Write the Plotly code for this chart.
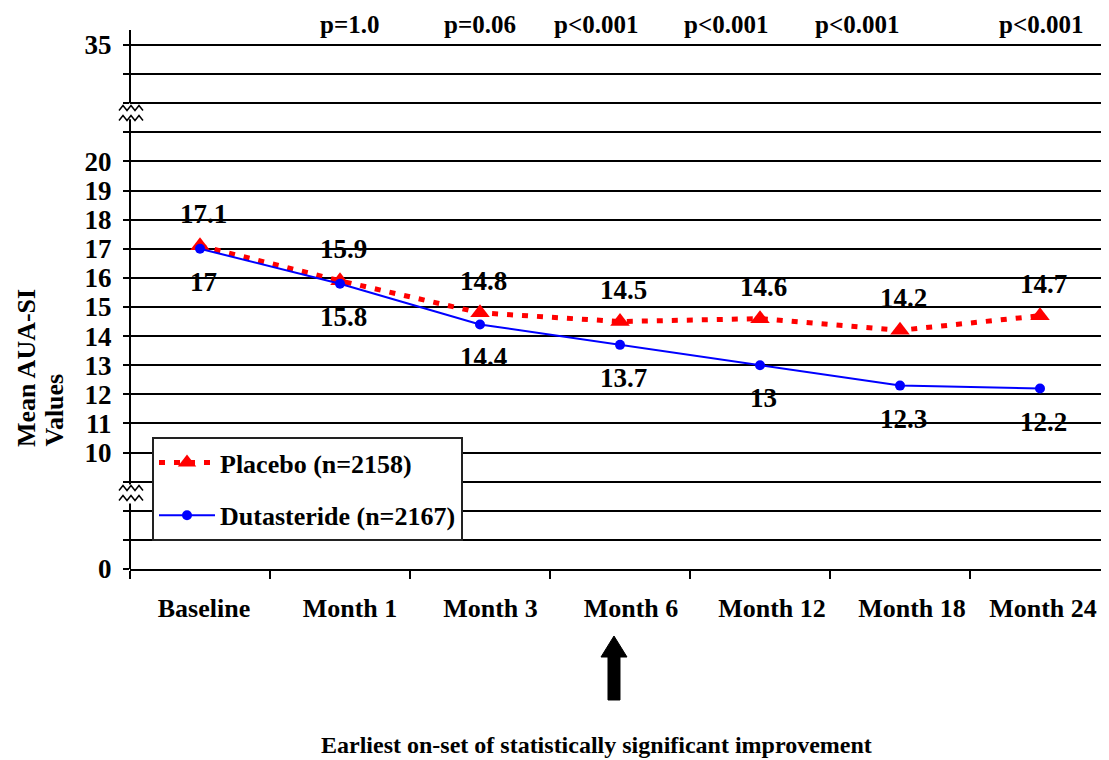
import plotly.graph_objects as go

# ---------------- data ----------------
categories = ["Baseline", "Month 1", "Month 3", "Month 6", "Month 12", "Month 18", "Month 24"]
placebo = [17.1, 15.9, 14.8, 14.5, 14.6, 14.2, 14.7]
dutasteride = [17.0, 15.8, 14.4, 13.7, 13.0, 12.3, 12.2]
placebo_labels = ["17.1", "15.9", "14.8", "14.5", "14.6", "14.2", "14.7"]
dutasteride_labels = ["17", "15.8", "14.4", "13.7", "13", "12.3", "12.2"]
p_values = ["p=1.0", "p=0.06", "p<0.001", "p<0.001", "p<0.001", "p<0.001"]

# broken y axis: slot values on the axis and the label shown at each slot
y_slots = list(range(6, 25))
y_slot_text = {6: "0", 24: "35"}
for v in range(10, 21):
    y_slot_text[v] = str(v)
y_ticktext = [y_slot_text.get(v, "") for v in y_slots]

# ---------------- layout helpers (screen pixel coords; page has 8px body margin) ----------------
OFF = 8
W, H = 1109 - OFF, 760 - OFF
SL, SR, ST, SB = 130, 1109, 30, 569
UNIT = (569 - 45) / 18.0
SLOT = 140.0
def px(x):
    return (x - SL) / (SR - SL)
def py(y):
    return (SB - y) / (SB - ST)

FONT = "Liberation Serif"
def f(size, color="black"):
    return dict(family=FONT, size=size, color=color, weight="bold")

fig = go.Figure()
x_idx = list(range(len(categories)))

fig.add_trace(go.Scatter(
    x=x_idx, y=placebo, mode="lines+markers", name="Placebo (n=2158)",
    line=dict(color="#FF0000", width=5, dash="6px,9px"),
    marker=dict(symbol="triangle-up", size=17, color="#FF0000"),
    legendgroup="a", cliponaxis=False,
))
fig.add_trace(go.Scatter(
    x=x_idx, y=dutasteride, mode="lines+markers", name="Dutasteride (n=2167)",
    line=dict(color="#0000FF", width=2),
    marker=dict(symbol="circle", size=10, color="#0000FF"),
    legendgroup="b", cliponaxis=False,
))

annotations = []
for i in x_idx:
    annotations.append(dict(x=i, y=placebo[i], text=placebo_labels[i], showarrow=False,
                            xanchor="center", yanchor="middle",
                            xshift=3, yshift=32, font=f(27)))
    annotations.append(dict(x=i, y=dutasteride[i], text=dutasteride_labels[i], showarrow=False,
                            xanchor="center", yanchor="middle",
                            xshift=3, yshift=-33, font=f(27)))

p_x_pos = [1.07, 2.0, 2.83, 3.76, 4.69, 6.01]
for xp, t in zip(p_x_pos, p_values):
    annotations.append(dict(x=xp, xref="x", y=py(24), yref="paper", text=t,
                            xanchor="center", yanchor="middle",
                            showarrow=False, font=f(25)))

annotations.append(dict(x=px(26), y=py(449), xref="paper", yref="paper",
                        text="Mean AUA-SI", textangle=-90, showarrow=False,
                        xanchor="center", yanchor="bottom", font=f(26)))
annotations.append(dict(x=px(54), y=py(449), xref="paper", yref="paper",
                        text="Values", textangle=-90, showarrow=False,
                        xanchor="center", yanchor="bottom", font=f(26)))
annotations.append(dict(x=px(596), y=py(745), xref="paper", yref="paper",
                        text="Earliest on-set of statistically significant improvement",
                        showarrow=False, xanchor="center", yanchor="middle", font=f(24)))

shapes = []
# y axis line, broken at two places
for y0, y1 in [(22.0, 24.515), (8.9, 21.45), (6.0, 8.25)]:
    shapes.append(dict(type="line", xref="paper", yref="y", x0=0, x1=0, y0=y0, y1=y1,
                       line=dict(color="black", width=2), layer="above"))

def zigzag(cy):
    pts = []
    xs = [119, 123, 127, 131, 135, 139, 143]
    for k, xx in enumerate(xs):
        yy = cy + (2.5 if k % 2 == 0 else -2.5)
        pts.append(f"{px(xx):.5f},{py(yy):.5f}")
    return "M " + " L ".join(pts)

for cy in [108, 118, 488, 498]:
    shapes.append(dict(type="path", xref="paper", yref="paper", path=zigzag(cy),
                       line=dict(color="black", width=1.5), layer="above"))

# upward arrow
arrow_pts = [(614, 636), (627, 657), (620, 657), (620, 700), (608, 700), (608, 657), (601, 657)]
arrow_path = "M " + " L ".join(f"{px(a):.5f},{py(b):.5f}" for a, b in arrow_pts) + " Z"
shapes.append(dict(type="path", xref="paper", yref="paper", path=arrow_path,
                   fillcolor="black", line=dict(color="black", width=1)))

# category labels sit slightly right of the category centre in the reference
label_offsets_px = [4, 10, 10.5, 11, 12, 12, 3]
label_pos = [i + d / SLOT for i, d in zip(x_idx, label_offsets_px)]

fig.update_layout(
    width=W, height=H,
    margin=dict(l=SL - OFF, r=W - (SR - OFF), t=ST - OFF, b=H - (SB - OFF), pad=0),
    paper_bgcolor="white", plot_bgcolor="white",
    showlegend=True,
    legend=dict(x=px(152), y=py(437), xanchor="left", yanchor="top",
                bgcolor="white", bordercolor="#222", borderwidth=2,
                font=f(26), itemwidth=56, traceorder="grouped", tracegroupgap=16),
    xaxis=dict(range=[-0.5, -0.5 + (SR - SL) / SLOT], tickmode="array",
               tickvals=label_pos, ticktext=categories, ticks="", showgrid=False,
               zeroline=False, showline=True, linecolor="black", linewidth=2,
               tickfont=f(26), ticklabelstandoff=15,
               minor=dict(tickmode="array", tickvals=[i - 0.5 for i in range(8)],
                          ticks="outside", ticklen=8, tickwidth=2, tickcolor="black",
                          showgrid=False)),
    yaxis=dict(range=[6, 6 + (SB - ST) / UNIT], tickmode="array", tickvals=y_slots,
               ticktext=y_ticktext, showgrid=True, gridcolor="black", gridwidth=2,
               zeroline=False, showline=False, ticks="outside", ticklen=6,
               tickwidth=2, tickcolor="black", tickfont=f(27), ticklabelstandoff=6),
    annotations=annotations,
    shapes=shapes,
)

fig.write_html("out.html")
